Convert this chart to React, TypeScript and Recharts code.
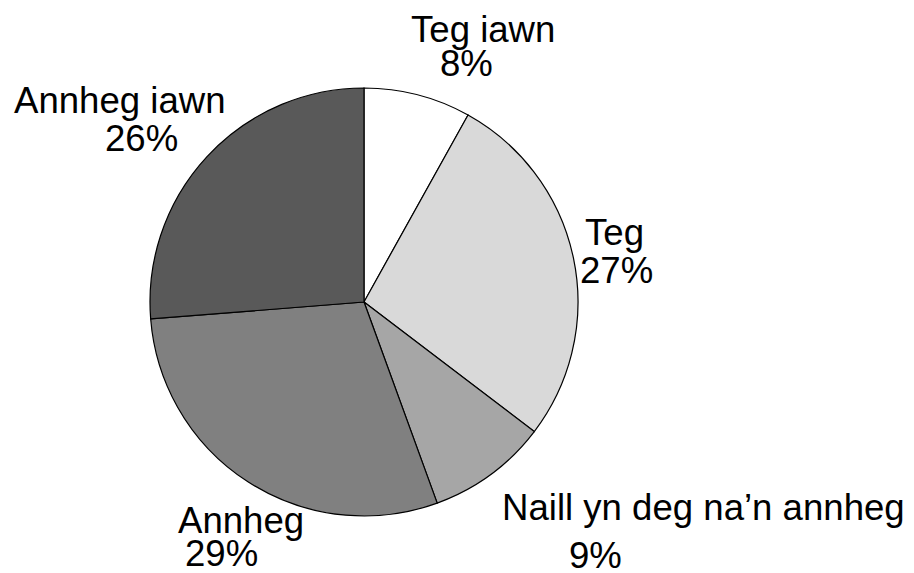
import { PieChart, Pie, Cell } from "recharts";

const categories = ["Teg iawn", "Teg", "Naill yn deg na’n annheg", "Annheg", "Annheg iawn"];
const shares = [8, 27, 9, 29, 26];
const percentLabels = ["8%", "27%", "9%", "29%", "26%"];

const colors = ["#ffffff", "#d9d9d9", "#a6a6a6", "#808080", "#595959"];

// where each two-line label sits, relative to the pie centre: [x1, y1, x2, y2]
const labelLayout = [
  [47, -260, 76, -226],
  [221, -57, 216, -19],
  [138, 218, 205, 266],
  [-186, 231, -179, 264],
  [-350, -189, -259, -151],
];

const data = categories.map((name, i) => ({ name, value: shares[i] }));

function renderLabel(props: any) {
  const { cx, cy, index } = props;
  const [x1, y1, x2, y2] = labelLayout[index];
  const style = {
    fontFamily: "'Liberation Sans', Arial, sans-serif",
    fontSize: 36.6,
    fill: "#000",
  };
  return (
    <g>
      <text x={cx + x1} y={cy + y1} textAnchor="start" style={style}>
        {categories[index]}
      </text>
      <text x={cx + x2} y={cy + y2} textAnchor="start" style={style}>
        {percentLabels[index]}
      </text>
    </g>
  );
}

export default function App() {
  return (
    <div style={{ position: "absolute", left: 0, top: 0, background: "#fff" }}>
      <PieChart width={914} height={573} margin={{ top: 0, right: 0, bottom: 0, left: 0 }}>
        <Pie
          data={data}
          dataKey="value"
          cx={364}
          cy={302}
          outerRadius={214}
          startAngle={90}
          endAngle={-270}
          stroke="#000"
          strokeWidth={1.2}
          label={renderLabel}
          labelLine={false}
          isAnimationActive={false}
        >
          {data.map((d, i) => (
            <Cell key={d.name} fill={colors[i]} />
          ))}
        </Pie>
      </PieChart>
    </div>
  );
}
